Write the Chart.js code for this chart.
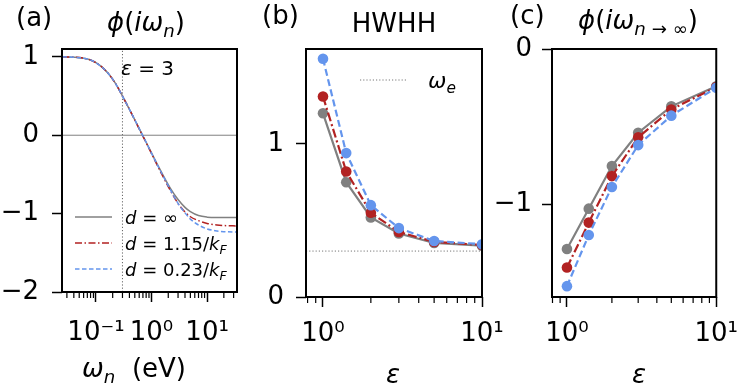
<!DOCTYPE html>
<html>
<head>
<meta charset="utf-8">
<script src="https://cdn.jsdelivr.net/npm/chart.js@4.4.1/dist/chart.umd.min.js"></script>
<style>
  body { margin: 0; background: #fff; }
  #wrap { position: relative; width: 750px; height: 390px; }
  canvas { position: absolute; left: 0; top: 0; }
</style>
</head>
<body>
<div id="wrap">
  <canvas id="chartA" width="750" height="390"></canvas>
  <canvas id="chartB" width="750" height="390"></canvas>
  <canvas id="chartC" width="750" height="390"></canvas>
</div>
<script>
/* ---------- data ---------- */
// (a) phi(i w_n) at eps = 3
const omega    = [0.025, 0.04, 0.06, 0.08, 0.1, 0.13, 0.17, 0.22, 0.28, 0.35, 0.45, 0.6, 0.8, 1.0, 1.3, 1.7, 2.2, 3, 4, 5, 7, 10, 15, 20, 35];
const phiDinf  = [1.0, 0.995, 0.983, 0.96, 0.925, 0.865, 0.78, 0.67, 0.54, 0.41, 0.26, 0.085, -0.09, -0.225, -0.385, -0.54, -0.68, -0.82, -0.92, -0.975, -1.025, -1.045, -1.05, -1.05, -1.05];
const phiD115  = [1.0, 0.995, 0.983, 0.96, 0.925, 0.865, 0.78, 0.67, 0.54, 0.41, 0.26, 0.08, -0.095, -0.235, -0.40, -0.56, -0.71, -0.87, -0.98, -1.04, -1.09, -1.125, -1.145, -1.152, -1.158];
const phiD023  = [1.0, 0.995, 0.983, 0.96, 0.925, 0.865, 0.78, 0.67, 0.54, 0.41, 0.26, 0.085, -0.09, -0.23, -0.39, -0.55, -0.70, -0.87, -0.99, -1.07, -1.145, -1.195, -1.222, -1.23, -1.235];
const omegaE   = 0.3;

// (b) HWHH and (c) phi(i w_n->inf) vs eps
const eps        = [1, 1.4, 2, 3, 5, 10];
const hwhhDinf   = [1.20, 0.75, 0.52, 0.415, 0.353, 0.335];
const hwhhD115   = [1.31, 0.82, 0.55, 0.425, 0.36, 0.34];
const hwhhD023   = [1.556, 0.94, 0.60, 0.45, 0.366, 0.345];
const phiLimDinf = [-1.29, -1.03, -0.755, -0.54, -0.37, -0.24];
const phiLimD115 = [-1.41, -1.12, -0.82, -0.57, -0.39, -0.245];
const phiLimD023 = [-1.53, -1.20, -0.89, -0.62, -0.43, -0.25];

// ticks
const xTickValues = [0.1, 1, 10];
const xTickLabels = ['10⁻¹', '10⁰', '10¹'];
const yTicksA = [1, 0, -1, -2];
const yTicksB = [0, 1];
const yTicksC = [0, -1];

const FONT = 'DejaVu Sans';
const FS = 26;
const GRAY = '#808080', RED = '#b22222', BLUE = '#6495ed';

/* ---------- helpers ---------- */
const pts = (xs, ys) => xs.map((x, i) => ({ x, y: ys[i] }));
const fmtY = v => (v < 0 ? '\u2212' + Math.abs(v) : String(v));

// text with italic / subscript parts: [text, flags] flags: i = italic, s = subscript
function rich(ctx, parts, x, y, size, align = 'left') {
    const fontOf = f => `${f.includes('i') ? 'italic ' : ''}${f.includes('s') ? size * 0.7 : size}px "${FONT}"`;
    let w = 0;
    parts.forEach(([t, f]) => { ctx.font = fontOf(f); w += ctx.measureText(t).width; });
    let cx = align === 'center' ? x - w / 2 : x;
    ctx.textAlign = 'left';
    ctx.textBaseline = 'alphabetic';
    ctx.fillStyle = '#000';
    parts.forEach(([t, f]) => {
        ctx.font = fontOf(f);
        ctx.fillText(t, cx, y + (f.includes('s') ? size * 0.22 : 0));
        cx += ctx.measureText(t).width;
    });
}

function sample(ctx, x0, x1, y, color, width, dash) {
    ctx.save();
    ctx.strokeStyle = color;
    ctx.lineWidth = width;
    ctx.setLineDash(dash);
    ctx.beginPath();
    ctx.moveTo(x0, y);
    ctx.lineTo(x1, y);
    ctx.stroke();
    ctx.restore();
}

// frame, minor log ticks, texts
function decor(drawTexts) {
    return {
        id: 'decor',
        afterDraw(chart) {
            const { ctx, chartArea: a, scales } = chart;
            ctx.save();
            ctx.strokeStyle = '#000';
            ctx.lineWidth = 2;
            ctx.strokeRect(a.left, a.top, a.right - a.left, a.bottom - a.top);

            const xs = scales.x;
            ctx.lineWidth = 1.2;
            for (let d = Math.floor(Math.log10(xs.min)); d <= Math.ceil(Math.log10(xs.max)); d++) {
                for (let k = 2; k <= 9; k++) {
                    const v = k * Math.pow(10, d);
                    if (v < xs.min || v > xs.max) continue;
                    const px = xs.getPixelForValue(v);
                    ctx.beginPath();
                    ctx.moveTo(px, a.bottom);
                    ctx.lineTo(px, a.bottom + 6);
                    ctx.stroke();
                }
            }
            drawTexts(ctx, chart);
            ctx.restore();
        }
    };
}

function series(data, color, width, dash, order, radius, smooth) {
    return {
        data, borderColor: color, backgroundColor: color, borderWidth: width, borderDash: dash,
        pointRadius: radius, pointBorderWidth: 0, pointBackgroundColor: color,
        cubicInterpolationMode: smooth ? 'monotone' : 'default', tension: 0, order, clip: 0
    };
}

function panel(id, box, xr, yr, yTicks, datasets, drawTexts) {
    const tickFont = { family: FONT, size: FS };
    const grid = { drawOnChartArea: false, tickLength: 10, tickWidth: 1.5, tickColor: '#000' };
    return new Chart(document.getElementById(id), {
        type: 'line',
        data: { datasets },
        options: {
            responsive: false,
            animation: false,
            devicePixelRatio: 1,
            layout: { autoPadding: false, padding: { left: box.l - 60, right: 750 - box.r, top: box.t, bottom: 0 } },
            plugins: { legend: { display: false }, tooltip: { enabled: false } },
            scales: {
                x: {
                    type: 'logarithmic', min: xr[0], max: xr[1],
                    afterBuildTicks: s => {
                        s.ticks = xTickValues.filter(v => v >= xr[0] && v <= xr[1]).map(v => ({ value: v }));
                    },
                    afterFit: s => { s.height = 390 - box.b; },
                    ticks: { callback: v => xTickLabels[xTickValues.indexOf(v)], autoSkip: false, maxRotation: 0,
                             font: tickFont, color: '#000', padding: box.xpad },
                    grid, border: { display: false }
                },
                y: {
                    min: yr[0], max: yr[1],
                    afterBuildTicks: s => { s.ticks = yTicks.map(v => ({ value: v })); },
                    afterFit: s => { s.width = 60; },
                    ticks: { callback: v => fmtY(v), font: tickFont, color: '#000', padding: box.ypad },
                    grid, border: { display: false }
                }
            }
        },
        plugins: [decor(drawTexts)]
    });
}

/* ---------- (a) ---------- */
panel('chartA', { l: 62, r: 237, t: 49, b: 292, xpad: 16, ypad: 13 }, [0.0245, 34.5], [-2, 1.1], yTicksA, [
    series(pts(omega, phiD023), BLUE, 1.5, [4.5, 2.5], 1, 0, true),
    series(pts(omega, phiD115), RED, 1.5, [7, 2.5, 1.5, 2.5], 2, 0, true),
    series(pts(omega, phiDinf), GRAY, 1.5, [], 3, 0, true),
    series(pts([0.0245, 34.5], [0, 0]), GRAY, 1, [], 4, 0),
    series(pts([omegaE, omegaE], [-2, 1.1]), '#666', 1, [1.2, 2], 4, 0)
], ctx => {
    rich(ctx, [['(a)', '']], 16, 26, FS);
    rich(ctx, [['ϕ', 'i'], ['(', ''], ['iω', 'i'], ['n', 'is'], [')', '']], 146, 31, FS, 'center');
    rich(ctx, [['ε', 'i'], [' = 3', '']], 121, 75, 20);
    sample(ctx, 75, 112, 217, GRAY, 1.5, []);
    sample(ctx, 75, 112, 243, RED, 1.5, [7, 2.5, 1.5, 2.5]);
    sample(ctx, 75, 112, 269, BLUE, 1.5, [4.5, 2.5]);
    rich(ctx, [['d', 'i'], [' = ∞', '']], 125, 224, 18);
    rich(ctx, [['d', 'i'], [' = 1.15/', ''], ['k', 'i'], ['F', 'is']], 125, 250, 18);
    rich(ctx, [['d', 'i'], [' = 0.23/', ''], ['k', 'i'], ['F', 'is']], 125, 276, 18);
    rich(ctx, [['ω', 'i'], ['n', 'is'], ['  (eV)', '']], 134, 377, FS, 'center');
});

/* ---------- (b) ---------- */
panel('chartB', { l: 306, r: 482, t: 49, b: 297, xpad: 12, ypad: 12 }, [0.782, 10], [0, 1.62], yTicksB, [
    series(pts(eps, hwhhD023), BLUE, 2.2, [7, 3.5], 1, 5.3),
    series(pts(eps, hwhhD115), RED, 2.2, [9, 3, 2, 3], 2, 5.3),
    series(pts(eps, hwhhDinf), GRAY, 2.2, [], 3, 5.3),
    series(pts([0.782, 10], [omegaE, omegaE]), '#777', 1, [1.2, 2], 4, 0)
], ctx => {
    rich(ctx, [['(b)', '']], 262, 24, FS);
    rich(ctx, [['HWHH', '']], 394, 32, FS, 'center');
    sample(ctx, 360, 408, 80, '#777', 1, [1.2, 2]);
    rich(ctx, [['ω', 'i'], ['e', 'is']], 428, 88, 22);
    rich(ctx, [['ε', 'i']], 393, 383, FS, 'center');
});

/* ---------- (c) ---------- */
panel('chartC', { l: 552, r: 728, t: 49, b: 297, xpad: 12, ypad: 10 }, [0.794, 10], [-1.6, 0], yTicksC, [
    series(pts(eps, phiLimD023), BLUE, 2.2, [7, 3.5], 1, 5.3),
    series(pts(eps, phiLimD115), RED, 2.2, [9, 3, 2, 3], 2, 5.3),
    series(pts(eps, phiLimDinf), GRAY, 2.2, [], 3, 5.3)
], ctx => {
    rich(ctx, [['(c)', '']], 510, 24, FS);
    rich(ctx, [['ϕ', 'i'], ['(', ''], ['iω', 'i'], ['n', 'is'], [' → ∞', 's'], [')', '']], 638, 29, FS, 'center');
    rich(ctx, [['ε', 'i']], 639, 383, FS, 'center');
});
</script>
</body>
</html>
